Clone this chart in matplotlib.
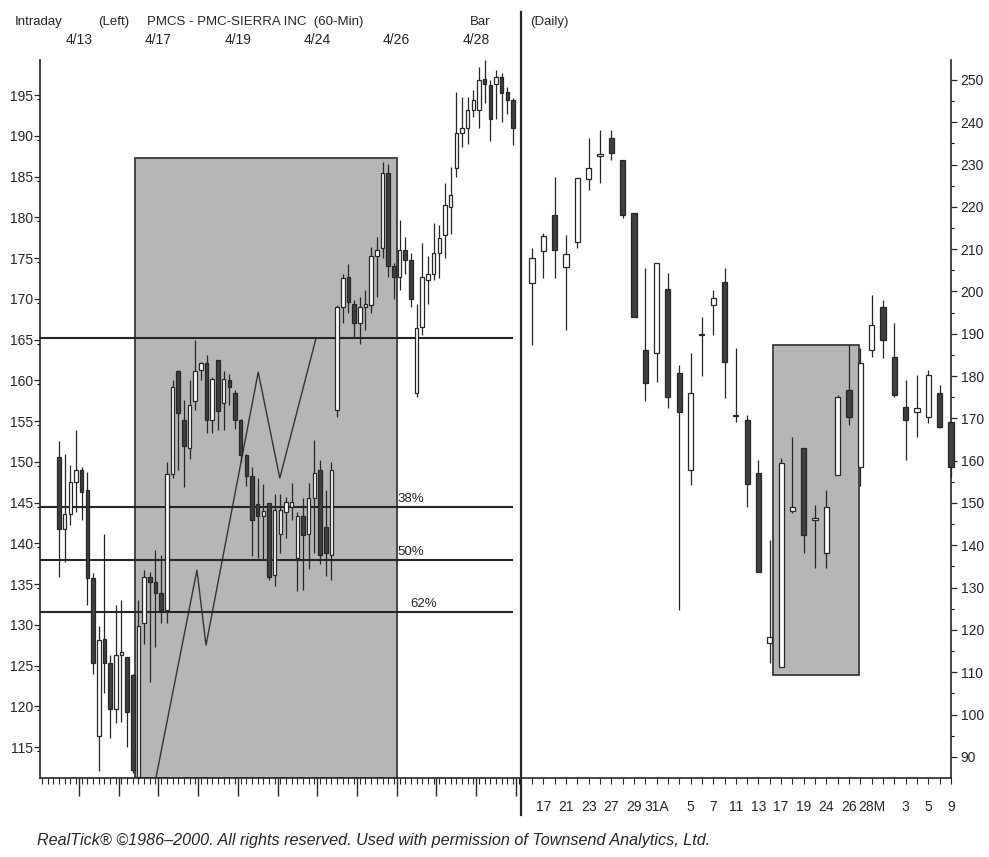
import matplotlib.pyplot as plt
from matplotlib import font_manager
from matplotlib.patches import Rectangle
from matplotlib.lines import Line2D

installed = {f.name for f in font_manager.fontManager.ttflist}
narrow = 'Liberation Sans Narrow' if 'Liberation Sans Narrow' in installed else 'Liberation Sans'
plt.rcParams['font.family'] = [narrow, 'DejaVu Sans']

# ---- 60-min bars, left panel (open, high, low, close) ----
hr_open = [150.6, 141.7, 143.6, 147.5, 149.0, 146.5, 135.7, 116.3, 128.3, 125.3,
           119.7, 126.3, 126.0, 123.8, 111.3, 130.2, 135.9, 135.3, 133.9, 131.8,
           148.5, 161.1, 155.1, 151.7, 157.4, 161.3, 162.1, 155.1, 162.5, 157.2,
           160.0, 158.4, 155.1, 150.8, 148.2, 144.8, 143.4, 144.9, 136.1, 141.2,
           143.9, 144.5, 138.2, 143.3, 141.2, 145.5, 149.0, 142.0, 138.6, 156.3,
           169.0, 172.7, 169.4, 167.0, 169.0, 169.2, 175.2, 176.2, 185.4, 174.0,
           172.7, 176.0, 174.8, 158.4, 166.5, 172.3, 173.1, 175.6, 177.8, 181.3,
           186.0, 190.3, 190.9, 193.2, 193.2, 197.0, 196.2, 196.4, 197.2, 195.4,
           194.4]
hr_high = [152.5, 151.0, 149.6, 153.9, 149.4, 148.8, 136.3, 129.9, 141.2, 126.3,
           132.4, 133.0, 126.1, 124.0, 133.0, 136.7, 136.5, 139.2, 138.6, 150.0,
           160.0, 161.3, 157.6, 160.0, 164.9, 162.3, 163.1, 160.4, 162.5, 161.1,
           160.8, 158.8, 155.3, 151.0, 149.4, 148.0, 147.3, 144.9, 146.1, 146.1,
           145.7, 147.4, 143.9, 145.5, 147.4, 152.7, 150.2, 146.5, 150.0, 169.2,
           173.1, 174.3, 169.8, 170.2, 171.1, 176.4, 177.6, 186.8, 186.6, 174.4,
           179.7, 177.6, 175.6, 169.4, 176.8, 175.2, 179.3, 179.0, 184.2, 186.2,
           195.4, 194.8, 194.8, 195.6, 198.5, 199.3, 196.8, 198.1, 197.7, 196.0,
           194.6]
hr_low = [135.9, 137.7, 142.2, 143.9, 142.8, 132.4, 124.0, 112.0, 121.6, 116.1,
          117.9, 118.1, 115.0, 111.8, 111.2, 127.7, 123.0, 127.3, 130.2, 130.2,
          148.0, 149.0, 146.9, 150.4, 156.4, 160.0, 153.5, 153.5, 153.9, 153.9,
          157.0, 154.0, 150.0, 147.0, 138.4, 138.2, 138.1, 135.5, 134.7, 138.8,
          140.6, 142.9, 134.1, 134.3, 136.9, 138.8, 137.5, 136.0, 135.5, 155.5,
          167.0, 168.2, 165.3, 164.5, 166.2, 168.2, 170.2, 175.0, 172.7, 170.0,
          171.1, 173.0, 169.0, 157.9, 165.5, 169.4, 172.3, 172.5, 175.0, 178.0,
          185.0, 188.6, 189.0, 192.3, 191.0, 194.0, 189.3, 192.0, 191.7, 192.7,
          188.9]
hr_close = [141.7, 143.6, 147.5, 149.0, 146.3, 135.7, 125.3, 128.1, 125.3, 119.7,
            126.3, 126.6, 119.3, 112.2, 129.8, 135.9, 135.3, 133.9, 131.8, 148.5,
            159.2, 156.0, 151.9, 157.0, 161.1, 162.1, 155.1, 160.2, 156.2, 160.2,
            159.2, 155.1, 150.8, 148.2, 142.9, 143.4, 144.0, 135.9, 144.1, 144.1,
            145.1, 145.1, 143.3, 141.0, 145.5, 148.6, 138.6, 138.8, 149.0, 169.0,
            172.5, 169.6, 167.0, 169.0, 169.3, 175.2, 176.0, 185.4, 174.0, 172.7,
            176.0, 174.8, 170.0, 166.4, 172.7, 173.1, 175.6, 177.4, 181.5, 182.7,
            190.3, 190.9, 193.2, 194.4, 196.8, 196.4, 192.1, 197.2, 195.2, 194.4,
            190.9]
bars_per_day = 7
first_day_bar = 4          # bars of 4/12 before the 4/13 session
day_labels = ['4/13', '4/17', '4/19', '4/24', '4/26', '4/28']
label_every_days = 2

level_line = 165.2
fib_levels = [144.4, 137.9, 131.6]
fib_labels = ['38%', '50%', '62%']
fib_label_bar = [59.7, 59.7, 61.9]

box_left = (13.4, 59.6, 111.2, 187.3)        # bar from, bar to, low, high
zig_bar = [17.1, 24.3, 25.9, 35.1, 38.9, 45.3]
zig_price = [111.3, 136.7, 127.5, 161.0, 148.0, 165.2]

# ---- daily bars, right panel ----
d_open = [201.9, 209.6, 218.1, 205.7, 211.8, 226.5, 232.0, 236.2, 231.1, 218.5,
          186.2, 185.4, 200.5, 180.8, 157.8, 189.6, 196.8, 202.3, 170.8, 169.5,
          157.0, 116.8, 111.3, 148.0, 162.9, 146.0, 138.1, 156.6, 176.7, 158.6,
          186.2, 196.4, 184.6, 172.8, 171.4, 170.4, 175.9, 169.2]
d_high = [210.2, 213.8, 227.1, 213.4, 226.9, 236.2, 238.2, 238.2, 231.1, 218.5,
          205.5, 206.7, 204.3, 182.6, 185.4, 194.0, 200.4, 205.5, 186.6, 170.8,
          160.2, 141.3, 160.6, 165.7, 162.9, 149.5, 153.1, 175.5, 187.3, 186.6,
          199.2, 198.0, 192.5, 179.1, 180.3, 181.4, 177.9, 169.2]
d_low = [187.4, 203.1, 203.1, 190.9, 210.2, 224.0, 225.6, 231.1, 217.3, 194.0,
         174.0, 178.7, 172.4, 124.7, 154.3, 179.9, 189.7, 174.7, 169.2, 149.1,
         133.8, 112.1, 111.3, 147.6, 138.1, 134.6, 134.6, 156.6, 168.4, 154.0,
         184.6, 184.2, 175.1, 160.2, 165.7, 169.0, 167.7, 156.2]
d_close = [207.8, 213.0, 209.8, 208.9, 226.7, 229.1, 232.5, 232.8, 218.1, 194.0,
           178.3, 206.7, 175.1, 171.6, 175.9, 190.0, 198.4, 183.4, 170.5, 154.6,
           133.8, 118.4, 159.4, 149.0, 142.4, 146.3, 149.1, 175.1, 170.4, 183.0,
           192.1, 188.5, 175.5, 169.6, 172.4, 180.3, 168.0, 158.6]
d_labels = ['17', '21', '23', '27', '29', '31A', '5', '7', '11', '13', '17', '19',
            '24', '26', '28M', '3', '5', '9']
d_label_idx = [1, 3, 5, 7, 9, 11, 14, 16, 18, 20, 22, 24, 26, 28, 30, 33, 35, 37]
box_right = (21.3, 28.9, 109.3, 187.4)

W, H = 989, 857
fig = plt.figure(figsize=(W / 100, H / 100), dpi=100)
fig.patch.set_facecolor('white')

def fx(px):
    return px / W

def fy(py):
    return 1 - py / H

ink = '#262626'
dark = '#3f3f3f'
shade = '#b6b6b6'

ax1 = fig.add_axes([fx(40), fy(778), fx(521) - fx(40), fy(60) - fy(778)])
ax2 = fig.add_axes([fx(521), fy(778), fx(951) - fx(521), fy(60) - fy(778)])


def draw_candles(ax, o, h, l, c, width, lw):
    for i in range(len(o)):
        ax.vlines(i, l[i], h[i], color=ink, lw=lw, zorder=3, clip_on=False)
        lo = min(o[i], c[i])
        ht = max(abs(c[i] - o[i]), 0.35)
        face = 'white' if c[i] >= o[i] else dark
        ax.add_patch(Rectangle((i - width / 2, lo), width, ht, facecolor=face,
                               edgecolor=ink, lw=lw, zorder=4, clip_on=False))


# left panel
ax1.set_xlim(-3.35, 81.4)
ax1.set_ylim(111.2, 199.3)
ax1.add_patch(Rectangle((box_left[0], box_left[2]), box_left[1] - box_left[0],
                        box_left[3] - box_left[2], facecolor=shade,
                        edgecolor='#3a3a3a', lw=1.3, zorder=1))
ax1.plot(zig_bar, zig_price, color='#333333', lw=1.0, zorder=2)
ax1.hlines([level_line] + fib_levels, -3.35, 80.0, color=ink, lw=1.5, zorder=2)
for lv, lab, bx in zip(fib_levels, fib_labels, fib_label_bar):
    ax1.annotate(lab, (bx, lv), xytext=(0, 1.5), textcoords='offset points',
                 ha='left', va='bottom', fontsize=9.5, color=ink)
draw_candles(ax1, hr_open, hr_high, hr_low, hr_close, 0.62, 0.9)

ax1.set_yticks(range(115, 200, 5))
ax1.set_yticks([v + 2.5 for v in range(112, 197, 5)], minor=True)
ax1.tick_params(axis='y', which='major', direction='out', length=4, width=0.9,
                pad=1, labelsize=10, colors=ink)
ax1.tick_params(axis='y', which='minor', direction='out', length=2.5, width=0.8)
starts = [first_day_bar + k * bars_per_day - 0.5 for k in range(12)]
ax1.set_xticks(starts)
ax1.set_xticklabels([])
ax1.set_xticks(range(-3, len(hr_open) + 1), minor=True)
ax1.tick_params(axis='x', which='major', direction='out', length=13, width=1.0, colors=ink)
ax1.tick_params(axis='x', which='minor', direction='out', length=4.5, width=0.8, colors=ink)
for k, lab in enumerate(day_labels):
    xb = starts[k * label_every_days]
    ax1.text(xb, 1.028, lab, transform=ax1.get_xaxis_transform(), ha='center',
             va='center', fontsize=10, color=ink)
for s in ['top', 'right']:
    ax1.spines[s].set_visible(False)
for s in ['left', 'bottom']:
    ax1.spines[s].set_color(ink)
    ax1.spines[s].set_linewidth(1.2)

# right panel
ax2.set_xlim(-0.97, 37.0)
ax2.set_ylim(85.0, 254.7)
ax2.add_patch(Rectangle((box_right[0], box_right[2]), box_right[1] - box_right[0],
                        box_right[3] - box_right[2], facecolor=shade,
                        edgecolor='#3a3a3a', lw=1.3, zorder=1))
draw_candles(ax2, d_open, d_high, d_low, d_close, 0.46, 0.9)
ax2.yaxis.tick_right()
ax2.set_yticks(range(90, 251, 10))
ax2.set_yticks(range(95, 251, 10), minor=True)
ax2.tick_params(axis='y', which='major', direction='out', length=4, width=0.9,
                pad=3, labelsize=10, colors=ink)
ax2.tick_params(axis='y', which='minor', direction='out', length=2.5, width=0.8)
ax2.set_xticks(d_label_idx)
ax2.set_xticklabels(d_labels)
ax2.set_xticks(range(len(d_open)), minor=True)
ax2.tick_params(axis='x', which='major', direction='out', length=4.5, width=0.8,
                pad=11, labelsize=10, colors=ink)
ax2.tick_params(axis='x', which='minor', direction='out', length=4.5, width=0.8, colors=ink)
for s in ['top', 'left']:
    ax2.spines[s].set_visible(False)
for s in ['right', 'bottom']:
    ax2.spines[s].set_color(ink)
    ax2.spines[s].set_linewidth(1.2)

# divider between intraday and daily
fig.add_artist(Line2D([fx(521), fx(521)], [fy(12), fy(815)], color=ink, lw=1.6))

# header and footer
fig.text(fx(15), fy(22), 'Intraday', fontsize=9.5, va='center', color=ink)
fig.text(fx(98), fy(22), '(Left)', fontsize=9.5, va='center', color=ink)
fig.text(fx(147), fy(22), 'PMCS - PMC-SIERRA INC  (60-Min)', fontsize=9.5,
         va='center', color=ink)
fig.text(fx(470), fy(22), 'Bar', fontsize=9.5, va='center', color=ink)
fig.text(fx(530), fy(22), '(Daily)', fontsize=9.5, va='center', color=ink)
fig.text(fx(37), fy(840),
         'RealTick\u00ae \u00a91986\u20132000. All rights reserved. Used with permission of Townsend Analytics, Ltd.',
         fontsize=11.6, style='italic', va='center', color=ink)

fig.savefig('out.png', dpi=100)
